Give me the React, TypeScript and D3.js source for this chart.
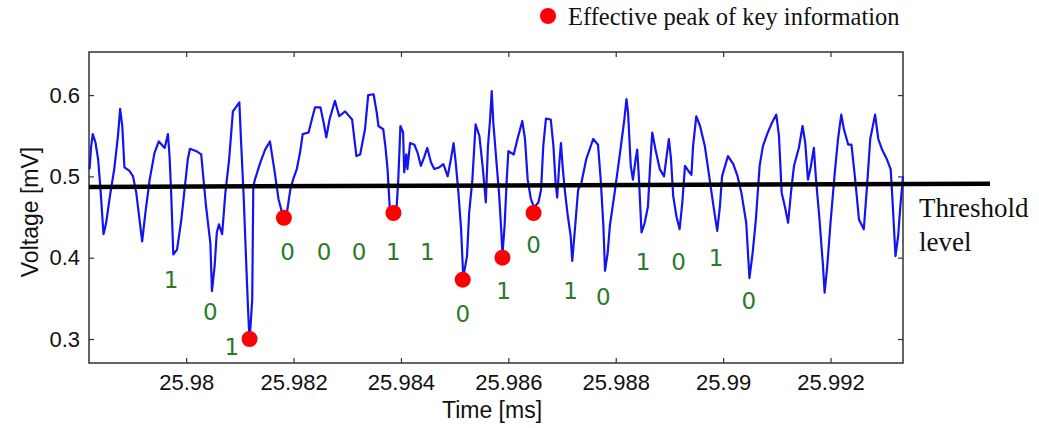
import React, { useEffect, useRef } from "react";
import * as d3 from "d3";

// signal samples (time in ms, voltage in mV)
const times = [
  25.9782, 25.97823, 25.97826, 25.97831, 25.97836, 25.9784, 25.97846, 25.97851, 25.97858, 25.97866,
  25.97873, 25.97877, 25.97881, 25.97885, 25.97894, 25.97901, 25.97907, 25.97913, 25.97918, 25.97924,
  25.97932, 25.97941, 25.97949, 25.9796, 25.97966, 25.97969, 25.97972, 25.97976, 25.97983, 25.97991,
  25.97997, 25.98003, 25.98007, 25.98019, 25.98028, 25.98031, 25.98037, 25.98045, 25.98048, 25.98053,
  25.98057, 25.98061, 25.98067, 25.98073, 25.9808, 25.98087, 25.98099, 25.98102, 25.98107, 25.98112,
  25.98115, 25.98118, 25.98123, 25.98125, 25.98128, 25.98138, 25.98147, 25.98156, 25.98164, 25.98172,
  25.9818, 25.98188, 25.98194, 25.982, 25.98206, 25.98212, 25.98217, 25.98228, 25.98234, 25.9824,
  25.9825, 25.98256, 25.98261, 25.98267, 25.98277, 25.98285, 25.98296, 25.98309, 25.98317, 25.98324,
  25.98333, 25.98339, 25.98349, 25.98355, 25.98358, 25.98367, 25.98371, 25.98375, 25.98379, 25.98383,
  25.98392, 25.98395, 25.98399, 25.98404, 25.98406, 25.9841, 25.98412, 25.98417, 25.98425, 25.98431,
  25.98437, 25.98443, 25.98449, 25.98456, 25.98462, 25.98471, 25.98479, 25.98487, 25.98493, 25.98498,
  25.98502, 25.98507, 25.98512, 25.98516, 25.98523, 25.98527, 25.98533, 25.98539, 25.98546, 25.98552,
  25.98556, 25.98558, 25.98562, 25.98566, 25.98569, 25.98572, 25.98577, 25.98583, 25.98587, 25.98589,
  25.98593, 25.98597, 25.986, 25.9861, 25.98617, 25.98626, 25.98631, 25.98636, 25.98642, 25.98648,
  25.98656, 25.98661, 25.98665, 25.9867, 25.98679, 25.98684, 25.98688, 25.98691, 25.98695, 25.98698,
  25.98701, 25.98705, 25.9871, 25.98716, 25.98719, 25.98724, 25.9873, 25.98736, 25.98745, 25.98758,
  25.98767, 25.98772, 25.98777, 25.9878, 25.98785, 25.98789, 25.98798, 25.98808, 25.98816, 25.9882,
  25.98823, 25.98828, 25.98832, 25.98837, 25.9884, 25.98843, 25.98848, 25.98854, 25.9886, 25.98864,
  25.98868, 25.98874, 25.98882, 25.9889, 25.98894, 25.98899, 25.98903, 25.98907, 25.98913, 25.98919,
  25.98924, 25.98929, 25.98935, 25.98941, 25.98944, 25.9895, 25.98957, 25.98966, 25.98975, 25.98981,
  25.98989, 25.98994, 25.98998, 25.99009, 25.99019, 25.99027, 25.99034, 25.99043, 25.99049, 25.99055,
  25.99061, 25.99068, 25.99074, 25.99082, 25.99091, 25.99099, 25.99104, 25.99109, 25.99115, 25.99121,
  25.99127, 25.99132, 25.99141, 25.99148, 25.99153, 25.99158, 25.99163, 25.99169, 25.99173, 25.99179,
  25.99186, 25.99189, 25.99194, 25.992, 25.99208, 25.99214, 25.9922, 25.99225, 25.99233, 25.99239,
  25.99246, 25.99253, 25.99262, 25.99268, 25.99274, 25.99283, 25.99289, 25.99296, 25.99305, 25.99312,
  25.99315, 25.99318, 25.99321, 25.99326, 25.9933, 25.99335,
];
const volts = [
  0.509, 0.537, 0.552, 0.542, 0.521, 0.488, 0.429, 0.443, 0.476, 0.509,
  0.55, 0.583, 0.562, 0.511, 0.507, 0.5, 0.48, 0.447, 0.42, 0.455,
  0.496, 0.529, 0.543, 0.535, 0.552, 0.525, 0.48, 0.404, 0.41, 0.447,
  0.484, 0.521, 0.534, 0.531, 0.527, 0.505, 0.463, 0.418, 0.359, 0.39,
  0.431, 0.441, 0.429, 0.48, 0.521, 0.58, 0.591, 0.546, 0.476, 0.39,
  0.34, 0.297, 0.349, 0.488, 0.496, 0.517, 0.533, 0.543, 0.509, 0.472,
  0.452, 0.457, 0.484, 0.498, 0.509, 0.529, 0.552, 0.554, 0.57, 0.585,
  0.585, 0.566, 0.548, 0.57, 0.593, 0.574, 0.58, 0.57, 0.525, 0.527,
  0.558, 0.6, 0.601, 0.578, 0.562, 0.558, 0.537, 0.509, 0.463, 0.455,
  0.463, 0.496, 0.562, 0.554, 0.505, 0.527, 0.509, 0.541, 0.539, 0.529,
  0.513, 0.523, 0.535, 0.517, 0.509, 0.511, 0.515, 0.5, 0.521, 0.541,
  0.517, 0.48, 0.435, 0.376, 0.402, 0.455, 0.496, 0.564, 0.55, 0.513,
  0.484, 0.468, 0.537, 0.57, 0.605, 0.566, 0.525, 0.476, 0.431, 0.404,
  0.439, 0.496, 0.531, 0.527, 0.546, 0.568, 0.546, 0.496, 0.472, 0.462,
  0.468, 0.484, 0.537, 0.571, 0.57, 0.537, 0.492, 0.474, 0.517, 0.541,
  0.513, 0.484, 0.455, 0.427, 0.396, 0.435, 0.484, 0.492, 0.521, 0.546,
  0.539, 0.496, 0.439, 0.384, 0.406, 0.439, 0.48, 0.529, 0.57, 0.595,
  0.578, 0.513, 0.496, 0.521, 0.533, 0.5, 0.431, 0.443, 0.463, 0.513,
  0.554, 0.533, 0.509, 0.5, 0.521, 0.546, 0.521, 0.476, 0.451, 0.435,
  0.468, 0.513, 0.507, 0.502, 0.537, 0.574, 0.562, 0.537, 0.496, 0.468,
  0.433, 0.463, 0.5, 0.525, 0.515, 0.5, 0.48, 0.443, 0.375, 0.406,
  0.447, 0.513, 0.537, 0.552, 0.566, 0.576, 0.55, 0.48, 0.463, 0.443,
  0.484, 0.513, 0.535, 0.562, 0.541, 0.496, 0.511, 0.535, 0.496, 0.451,
  0.39, 0.357, 0.39, 0.443, 0.505, 0.546, 0.576, 0.558, 0.539, 0.539,
  0.496, 0.447, 0.435, 0.488, 0.546, 0.576, 0.546, 0.533, 0.521, 0.509,
  0.476, 0.439, 0.402, 0.427, 0.463, 0.5,
];

// red markers: effective peaks
const peakTimes = [25.98118, 25.98182, 25.98386, 25.98515, 25.98589, 25.98647];
const peakVolts = [0.3, 0.449, 0.455, 0.373, 0.4, 0.455];

// green bit labels
const bits = ["1", "0", "1", "0", "0", "0", "1", "1", "0", "1", "0", "1", "0", "1", "0", "1", "0"];
const bitTimes = [
  25.97972, 25.98045, 25.98085, 25.98189, 25.98257, 25.98322, 25.98386, 25.98449, 25.98515,
  25.98591, 25.98647, 25.98716, 25.98777, 25.98851, 25.98917, 25.98987, 25.99048,
];
const bitVolts = [
  0.373, 0.333, 0.29, 0.407, 0.407, 0.407, 0.407, 0.407, 0.331,
  0.359, 0.416, 0.36, 0.352, 0.395, 0.395, 0.4, 0.347,
];

// threshold line, slightly tilted, runs past the axes
const thresholdTimes = [25.97819, 25.99497];
const thresholdVolts = [0.487, 0.491];

const xTicks = [25.98, 25.982, 25.984, 25.986, 25.988, 25.99, 25.992];
const yTicks = [0.3, 0.4, 0.5, 0.6];

const W = 1039;
const H = 428;
const left = 89, right = 903, top = 52, bottom = 363;
const sans = "'Liberation Sans', Arial, sans-serif";
const serif = "'Liberation Serif', 'Times New Roman', serif";

const drawChart = (node: SVGSVGElement) => {
  const svg = d3.select(node);
  svg.selectAll("*").remove();

  const x = d3.scaleLinear().domain([25.97819, 25.99335]).range([left, right]);
  const y = d3.scaleLinear().domain([0.2705, 0.653]).range([bottom, top]);

  svg.append("rect").attr("width", W).attr("height", H).attr("fill", "#fff");

  // axes with inward ticks on all four sides
  const fmt = (d: any) => String(+(+d).toFixed(3));
  svg
    .append("g")
    .attr("transform", "translate(0," + bottom + ")")
    .call(d3.axisBottom(x).tickValues(xTicks).tickSize(-5).tickPadding(11).tickFormat(fmt));
  svg
    .append("g")
    .attr("transform", "translate(0," + top + ")")
    .call(d3.axisTop(x).tickValues(xTicks).tickSize(-5).tickFormat(() => ""));
  svg
    .append("g")
    .attr("transform", "translate(" + left + ",0)")
    .call(d3.axisLeft(y).tickValues(yTicks).tickSize(-5).tickPadding(9).tickFormat(d3.format(".1f")));
  svg
    .append("g")
    .attr("transform", "translate(" + right + ",0)")
    .call(d3.axisRight(y).tickValues(yTicks).tickSize(-5).tickFormat(() => ""));

  svg.selectAll(".domain").remove();
  svg.selectAll(".tick line").attr("stroke", "#333").attr("stroke-width", 1.2);
  svg.selectAll(".tick text").attr("font-family", sans).attr("font-size", 22).attr("fill", "#111");

  svg
    .append("rect")
    .attr("x", left)
    .attr("y", top)
    .attr("width", right - left)
    .attr("height", bottom - top)
    .attr("fill", "none")
    .attr("stroke", "#333")
    .attr("stroke-width", 1.5);

  // signal
  const line = d3
    .line<number>()
    .x((d, i) => x(times[i]))
    .y((d) => y(d));
  svg
    .append("path")
    .datum(volts)
    .attr("d", line)
    .attr("fill", "none")
    .attr("stroke", "#1414f0")
    .attr("stroke-width", 2.2)
    .attr("stroke-linejoin", "round");

  // threshold
  svg
    .append("line")
    .attr("x1", x(thresholdTimes[0]))
    .attr("y1", y(thresholdVolts[0]))
    .attr("x2", x(thresholdTimes[1]))
    .attr("y2", y(thresholdVolts[1]))
    .attr("stroke", "#000")
    .attr("stroke-width", 4.5);

  // peaks
  svg
    .selectAll(".peak")
    .data(peakTimes)
    .enter()
    .append("circle")
    .attr("cx", (d) => x(d))
    .attr("cy", (d, i) => y(peakVolts[i]))
    .attr("r", 8)
    .attr("fill", "#ff0000");

  // bit labels
  svg
    .selectAll(".bit")
    .data(bits)
    .enter()
    .append("text")
    .attr("x", (d, i) => x(bitTimes[i]))
    .attr("y", (d, i) => y(bitVolts[i]))
    .attr("dy", "0.36em")
    .attr("text-anchor", "middle")
    .attr("font-family", "'DejaVu Sans', sans-serif")
    .attr("font-size", 23)
    .attr("fill", "#2a7a2a")
    .text((d) => d);

  // axis titles
  svg
    .append("text")
    .attr("x", 492)
    .attr("y", 418)
    .attr("text-anchor", "middle")
    .attr("font-family", sans)
    .attr("font-size", 23)
    .attr("fill", "#111")
    .text("Time [ms]");
  svg
    .append("text")
    .attr("transform", "translate(30,212) rotate(-90)")
    .attr("dy", "0.36em")
    .attr("text-anchor", "middle")
    .attr("font-family", sans)
    .attr("font-size", 23)
    .attr("fill", "#111")
    .text("Voltage [mV]");

  // legend
  svg.append("circle").attr("cx", 548).attr("cy", 16).attr("r", 8).attr("fill", "#ff0000");
  svg
    .append("text")
    .attr("x", 568)
    .attr("y", 25)
    .attr("font-family", serif)
    .attr("font-size", 24.5)
    .attr("fill", "#111")
    .text("Effective peak of key information");

  // threshold note
  svg
    .append("text")
    .attr("x", 919)
    .attr("y", 217)
    .attr("font-family", serif)
    .attr("font-size", 27)
    .attr("fill", "#111")
    .text("Threshold");
  svg
    .append("text")
    .attr("x", 919)
    .attr("y", 251)
    .attr("font-family", serif)
    .attr("font-size", 27)
    .attr("fill", "#111")
    .text("level");
};

const App = () => {
  const ref = useRef<SVGSVGElement>(null);
  useEffect(() => {
    document.body.style.margin = "0";
    if (ref.current) drawChart(ref.current);
  }, []);
  return <svg ref={ref} width={W} height={H} style={{ display: "block" }}></svg>;
};

export default App;
